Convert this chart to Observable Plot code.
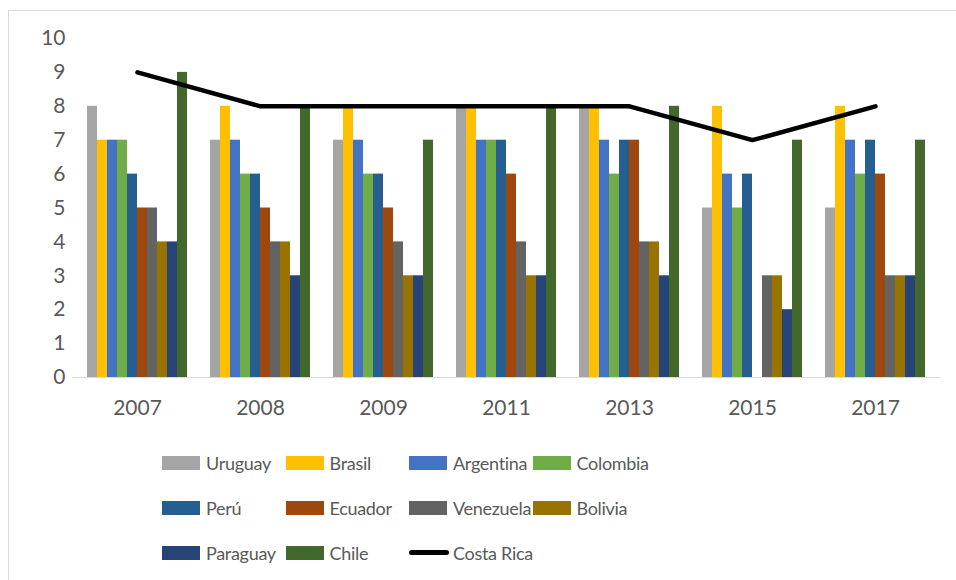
<!DOCTYPE html>
<html>
<head>
<meta charset="utf-8">
<script src="https://cdn.jsdelivr.net/npm/d3@7"></script>
<script src="https://cdn.jsdelivr.net/npm/@observablehq/plot@0.6"></script>
<style>
  html, body { margin: 0; padding: 0; background: #fff; overflow: hidden; }
  #frame { position: absolute; left: 8px; top: 10px; width: 1200px; height: 1200px;
           border-left: 1px solid #d9d9d9; border-top: 1px solid #d9d9d9; }
  #chart { position: absolute; left: 0; top: 0; width: 956px; height: 430px; }
  #chart svg { position: absolute; left: 0; top: 0; }
  #legend { position: absolute; left: 162px; top: 440px; display: grid;
            grid-template-columns: repeat(4, 123.5px); grid-auto-rows: 45px;
            font-family: Lato, sans-serif; font-size: 18px; letter-spacing: -0.3px; color: #595959; }
  .item { display: flex; align-items: center; white-space: nowrap; }
  .sw { width: 38px; height: 14px; margin-right: 6px; flex: none; }
  .ln { width: 40px; height: 4.5px; border-radius: 3px; background: #000; margin-right: 4px; flex: none; }
</style>
</head>
<body>
<div id="frame"></div>
<div id="chart"></div>
<div id="legend"></div>
<script>
const years = ["2007", "2008", "2009", "2011", "2013", "2015", "2017"];
const countries = ["Uruguay", "Brasil", "Argentina", "Colombia", "Perú", "Ecuador", "Venezuela", "Bolivia", "Paraguay", "Chile"];
const colors = ["#A5A5A5", "#FFC000", "#4472C4", "#70AD47", "#255E91", "#9E480E", "#636363", "#997300", "#264478", "#43682B"];

const uruguay   = [8, 7, 7, 8, 8, 5, 5];
const brasil    = [7, 8, 8, 8, 8, 8, 8];
const argentina = [7, 7, 7, 7, 7, 6, 7];
const colombia  = [7, 6, 6, 7, 6, 5, 6];
const peru      = [6, 6, 6, 7, 7, 6, 7];
const ecuador   = [5, 5, 5, 6, 7, null, 6];
const venezuela = [5, 4, 4, 4, 4, 3, 3];
const bolivia   = [4, 4, 3, 3, 4, 3, 3];
const paraguay  = [4, 3, 3, 3, 3, 2, 3];
const chile     = [9, 8, 7, 8, 8, 7, 7];
const costaRica = [9, 8, 8, 8, 8, 7, 8];

const series = [uruguay, brasil, argentina, colombia, peru, ecuador, venezuela, bolivia, paraguay, chile];
const bars = [];
countries.forEach((c, ci) => years.forEach((y, yi) => {
  const v = series[ci][yi];
  if (v != null) bars.push({year: y, country: c, value: v});
}));
const lineData = years.map((y, i) => ({year: y, value: costaRica[i]}));

const W = 956, H = 430, ML = 72, MR = 16, MT = 38, MB = 53;
const font = {fontFamily: "Lato, sans-serif", fontSize: "21px", color: "#595959", background: "none", overflow: "visible"};

const barsPlot = Plot.plot({
  width: W, height: H, marginLeft: ML, marginRight: MR, marginTop: MT, marginBottom: MB,
  style: font,
  fx: {domain: years, paddingInner: 0.184, paddingOuter: 0.097, axis: "bottom", label: null, tickSize: 0, tickPadding: 23},
  x: {domain: countries, axis: null, padding: 0},
  y: {domain: [0, 10], ticks: d3.range(0, 11), tickSize: 0, tickPadding: 22, label: null, tickFormat: d3.format("d")},
  color: {domain: countries, range: colors},
  marks: [
    Plot.barY(bars, {fx: "year", x: "country", y: "value", fill: "country", inset: 0})
  ]
});

const overlay = Plot.plot({
  width: W, height: H, marginLeft: ML, marginRight: MR, marginTop: MT, marginBottom: MB,
  style: font,
  x: {type: "point", domain: years, padding: 0.505, axis: null},
  y: {domain: [0, 10], axis: null},
  marks: [
    Plot.ruleY([0], {stroke: "#d9d9d9", strokeWidth: 1.2}),
    Plot.line(lineData, {x: "year", y: "value", stroke: "#000", strokeWidth: 4.5, strokeLinecap: "round", strokeLinejoin: "miter"})
  ]
});

const chart = document.getElementById("chart");
chart.appendChild(barsPlot);
chart.appendChild(overlay);

const legend = document.getElementById("legend");
const items = countries.map((c, i) => ({label: c, color: colors[i], line: false}));
items.push({label: "Costa Rica", color: "#000", line: true});
items.forEach(it => {
  const d = document.createElement("div");
  d.className = "item";
  const s = document.createElement("span");
  s.className = it.line ? "ln" : "sw";
  if (!it.line) s.style.background = it.color;
  d.appendChild(s);
  d.appendChild(document.createTextNode(it.label));
  legend.appendChild(d);
});
</script>
</body>
</html>
